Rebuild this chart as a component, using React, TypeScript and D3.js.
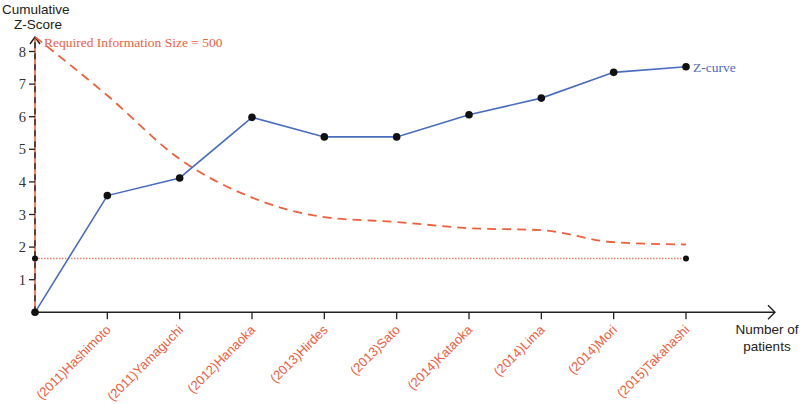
import React from "react";
import * as d3 from "d3";

const studies = [
  "",
  "(2011)Hashimoto",
  "(2011)Yamaguchi",
  "(2012)Hanaoka",
  "(2013)Hirdes",
  "(2013)Sato",
  "(2014)Kataoka",
  "(2014)Lima",
  "(2014)Mori",
  "(2015)Takahashi",
];
const zCurve = [0, 3.58, 4.12, 5.98, 5.38, 5.38, 6.06, 6.57, 7.36, 7.53];
const boundary = [8.45, 6.65, 4.7, 3.52, 2.92, 2.77, 2.58, 2.52, 2.15, 2.08];
const conventional = 1.65;
const yTicks = [1, 2, 3, 4, 5, 6, 7, 8];

const W = 800;
const H = 404;
const RED = "#f0603e";
const BLUE = "#4a6cc2";

export default function App() {
  const x = d3.scaleLinear().domain([0, 9]).range([35, 686]);
  const y = d3.scaleLinear().domain([0, 8]).range([312.3, 51.5]);
  const idx = d3.range(studies.length);

  const zLine = d3
    .line<number>()
    .x((i) => x(i))
    .y((i) => y(zCurve[i]))(idx) as string;

  const bLine = d3
    .line<number>()
    .x((i) => x(i))
    .y((i) => y(boundary[i]))
    .curve(d3.curveMonotoneX)(idx) as string;

  const x0 = x(0);
  const y0 = y(0);
  const xEnd = 775;
  const yTop = 37;

  return (
    <svg
      width={W}
      height={H}
      style={{ position: "absolute", left: 0, top: 0, background: "#fff" }}
    >
      {/* axis titles */}
      <text x={2} y={14} fontFamily="Liberation Sans, Arial" fontSize={13.5} fill="#222">
        Cumulative
      </text>
      <text x={38} y={29} textAnchor="middle" fontFamily="Liberation Sans, Arial" fontSize={13.5} fill="#222">
        Z-Score
      </text>
      <text x={767} y={334} textAnchor="middle" fontFamily="Liberation Sans, Arial" fontSize={13.5} fill="#222">
        Number of
      </text>
      <text x={767} y={351} textAnchor="middle" fontFamily="Liberation Sans, Arial" fontSize={13.5} fill="#222">
        patients
      </text>

      {/* y axis: red line with black dashes */}
      <line x1={x0} x2={x0} y1={y0} y2={yTop} stroke={RED} strokeWidth={1.6} />
      <line x1={x0} x2={x0} y1={y0} y2={yTop + 2} stroke="#222" strokeWidth={1.4} strokeDasharray="6,5" />
      <path
        d={`M${x0 - 5},${yTop + 7}L${x0},${yTop}L${x0 + 5},${yTop + 7}`}
        fill="none"
        stroke="#222"
        strokeWidth={1.4}
      />
      {yTicks.map((t) => (
        <g key={t}>
          <line x1={x0 - 6} x2={x0} y1={y(t)} y2={y(t)} stroke="#222" strokeWidth={1.3} />
          <text
            x={x0 - 9}
            y={y(t)}
            dy="0.35em"
            textAnchor="end"
            fontFamily="Liberation Serif, Times New Roman"
            fontSize={14.5}
            fill="#333"
          >
            {t}
          </text>
        </g>
      ))}

      {/* x axis */}
      <line x1={x0} x2={xEnd} y1={y0} y2={y0} stroke="#222" strokeWidth={1.4} />
      <path
        d={`M${xEnd - 7},${y0 - 7}L${xEnd},${y0}L${xEnd - 7},${y0 + 7}`}
        fill="none"
        stroke="#222"
        strokeWidth={1.4}
      />
      {idx.slice(1).map((i) => (
        <g key={i}>
          <line x1={x(i)} x2={x(i)} y1={y0} y2={y0 + 7} stroke="#222" strokeWidth={1.3} />
          <text
            transform={`translate(${x(i) + 1},${y0 + 15}) rotate(-45)`}
            textAnchor="end"
            dy="0.35em"
            fontFamily="Liberation Sans, Arial"
            fontSize={13}
            fill={RED}
          >
            {studies[i]}
          </text>
        </g>
      ))}

      {/* conventional boundary */}
      <line
        x1={x0}
        x2={x(9)}
        y1={y(conventional)}
        y2={y(conventional)}
        stroke="#f3806a"
        strokeWidth={1.5}
        strokeDasharray="1.5,1.5"
      />
      <circle cx={x0} cy={y(conventional)} r={3} fill="#111" />
      <circle cx={x(9)} cy={y(conventional)} r={3} fill="#111" />

      {/* monitoring boundary */}
      <path d={bLine} fill="none" stroke={RED} strokeWidth={1.8} strokeDasharray="9,6" />
      <text x={44} y={47} fontFamily="Liberation Serif, Times New Roman" fontSize={13.5} fill={RED}>
        Required Information Size = 500
      </text>

      {/* Z-curve */}
      <path d={zLine} fill="none" stroke={BLUE} strokeWidth={1.6} />
      {idx.map((i) => (
        <circle key={i} cx={x(i)} cy={y(zCurve[i])} r={3.8} fill="#111" />
      ))}
      <text
        x={x(9) + 7}
        y={y(zCurve[9])}
        dy="0.35em"
        fontFamily="Liberation Serif, Times New Roman"
        fontSize={13.5}
        fill={BLUE}
      >
        Z-curve
      </text>
    </svg>
  );
}
